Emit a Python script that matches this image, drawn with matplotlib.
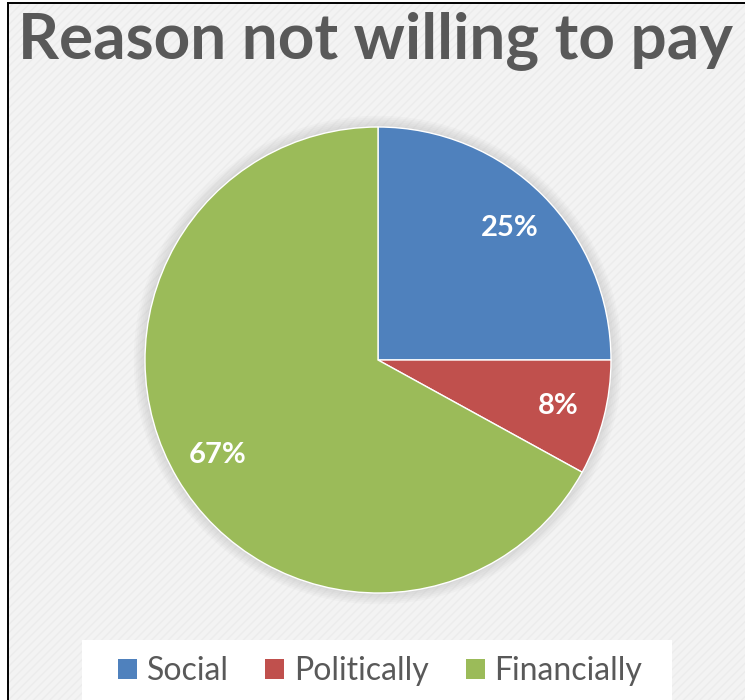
import matplotlib.pyplot as plt
from matplotlib.patches import Rectangle, Circle
from matplotlib.lines import Line2D

# ============================================================
# Data
# ============================================================

TITLE = "Reason not willing to pay"
categories = ["Social", "Politically", "Financially"]
shares = [25, 8, 67]
colors = ["#4f81bd", "#c0504d", "#9bbb59"]

FONT = "Lato"
W, H = 745, 700

# ============================================================
# Figure and chart area
# ============================================================

fig = plt.figure(figsize=(W / 100, H / 100), dpi=100, facecolor="white")

# chart area background with a faint diagonal texture
bg = Rectangle((8 / W, 0), 1 - 8 / W, 1 - 3 / H, transform=fig.transFigure,
               facecolor="#f3f3f3", edgecolor="#ececec", hatch="////",
               linewidth=0, zorder=-2)
fig.patches.append(bg)
fig.add_artist(Line2D([8 / W, 8 / W], [0, 1 - 3 / H], color="black", lw=1.4))
fig.add_artist(Line2D([8 / W, 1], [1 - 3 / H, 1 - 3 / H], color="black", lw=1.4))

fig.text(18 / W, 1 - 58 / H, TITLE, family=FONT, fontweight="bold",
         fontsize=46, color="#595959", ha="left", va="baseline")

# ============================================================
# Pie
# ============================================================

cx, cy, r = 378, H - 360, 233
ax = fig.add_axes([(cx - r) / W, (cy - r) / H, 2 * r / W, 2 * r / H])
ax.axis("off")

# soft glow around the pie
for k in range(6):
    ax.add_patch(Circle((0, 0), 1.0 + 0.008 * (k + 1), facecolor="#b0b0b0",
                        edgecolor="none", alpha=0.07, clip_on=False, zorder=0))

wedges, texts, autotexts = ax.pie(
    shares, colors=colors, startangle=90, counterclock=False, radius=1.0,
    autopct=lambda p: f"{p:.0f}%", pctdistance=0.8,
    wedgeprops=dict(edgecolor="white", linewidth=1.0),
    textprops=dict(color="white", family=FONT, fontweight="bold", fontsize=21),
)
# pie() widens the limits, so fix them afterwards to fill the axes
ax.set_xlim(-1, 1)
ax.set_ylim(-1, 1)
ax.set_aspect("equal")
for w in wedges:
    w.set_clip_on(False)
    w.set_zorder(2)
for t in autotexts:
    t.set_zorder(3)

# ============================================================
# Legend
# ============================================================

fig.patches.append(Rectangle((82 / W, 0), 590 / W, 60 / H, transform=fig.transFigure,
                             facecolor="white", edgecolor="none", zorder=-1))
leg = fig.legend(wedges, categories, loc="center", bbox_to_anchor=(380 / W, 1 - 671 / H),
                 ncol=3, frameon=False, prop=dict(family=FONT, size=23),
                 handlelength=0.6, handleheight=0.6, handletextpad=0.3,
                 columnspacing=1.15, labelcolor="#595959")
for h in leg.legend_handles:
    h.set_edgecolor("none")

fig.savefig("out.png", dpi=100)
